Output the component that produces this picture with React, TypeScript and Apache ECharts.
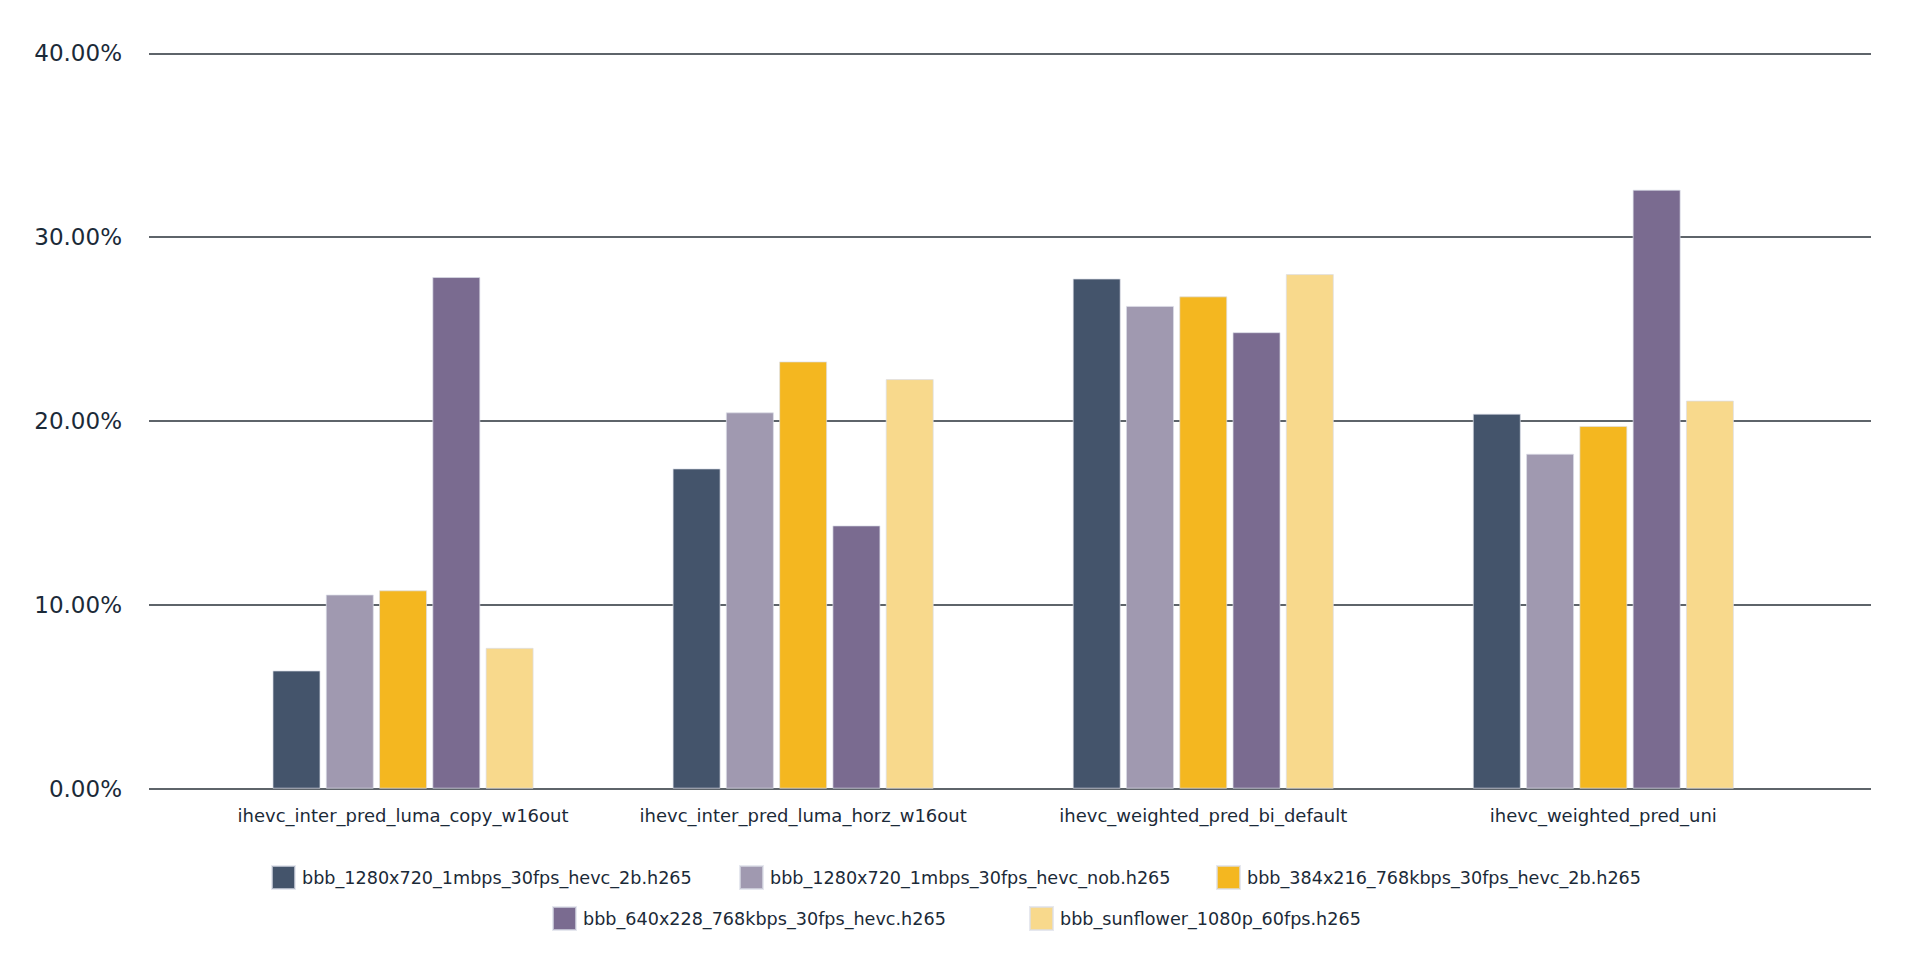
import React, { useEffect, useRef } from 'react';
import * as echarts from 'echarts';

const categories = [
  'ihevc_inter_pred_luma_copy_w16out',
  'ihevc_inter_pred_luma_horz_w16out',
  'ihevc_weighted_pred_bi_default',
  'ihevc_weighted_pred_uni',
];

const seriesNames = [
  'bbb_1280x720_1mbps_30fps_hevc_2b.h265',
  'bbb_1280x720_1mbps_30fps_hevc_nob.h265',
  'bbb_384x216_768kbps_30fps_hevc_2b.h265',
  'bbb_640x228_768kbps_30fps_hevc.h265',
  'bbb_sunflower_1080p_60fps.h265',
];

// percent values per file, one entry per category
const hevc2b720 = [6.43, 17.42, 27.75, 20.4];
const hevcNob720 = [10.56, 20.47, 26.26, 18.22];
const hevc2b384 = [10.79, 23.24, 26.78, 19.73];
const hevc640 = [27.83, 14.32, 24.83, 32.58];
const sunflower = [7.66, 22.28, 27.99, 21.11];

const seriesValues = [hevc2b720, hevcNob720, hevc2b384, hevc640, sunflower];

const colors = ['#44546b', '#a099b0', '#f4b720', '#7a6b90', '#f8d98c'];

const textColor = '#1b2a38';
const font = 'DejaVu Sans';

// legend slot positions (two rows, like the original layout)
const legendSlots = [
  { left: 271, top: 865 },
  { left: 739, top: 865 },
  { left: 1216, top: 865 },
  { left: 552, top: 906 },
  { left: 1029, top: 906 },
];

const App: React.FC = () => {
  const chartRef = useRef<HTMLDivElement | null>(null);

  useEffect(() => {
    if (!chartRef.current) return;
    const chart = echarts.init(chartRef.current, null, { renderer: 'svg' });

    const option: echarts.EChartsOption = {
      animation: false,
      backgroundColor: '#ffffff',
      textStyle: { fontFamily: font, color: textColor },
      grid: [
        // gridlines + y labels, wider than the bars
        { left: 149, top: 53.3, width: 1722, height: 735.4 },
        // bars
        { left: 203, top: 53.3, width: 1600.4, height: 735.4 },
      ],
      legend: seriesNames.map((name, i) => ({
        data: [name],
        left: legendSlots[i].left,
        top: legendSlots[i].top,
        padding: 0,
        icon: 'rect',
        itemWidth: 23,
        itemHeight: 23,
        selectedMode: false,
        textStyle: {
          fontFamily: font,
          fontSize: 17.6,
          color: textColor,
          padding: [0, 0, 0, 2],
        },
      })),
      xAxis: [
        { type: 'value', gridIndex: 0, show: false, min: 0, max: 1 },
        {
          type: 'category',
          gridIndex: 1,
          data: categories,
          axisLine: { show: false },
          axisTick: { show: false },
          axisLabel: {
            fontFamily: font,
            fontSize: 18,
            color: textColor,
            margin: 18,
            interval: 0,
          },
        },
      ],
      yAxis: [
        {
          type: 'value',
          gridIndex: 0,
          min: 0,
          max: 40,
          interval: 10,
          axisLine: { show: false },
          axisTick: { show: false },
          axisLabel: {
            fontFamily: font,
            fontSize: 23,
            color: textColor,
            margin: 27,
            formatter: (v: number) => `${v.toFixed(2)}%`,
          },
          splitLine: { show: true, lineStyle: { color: '#283039', width: 1.5 } },
        },
        { type: 'value', gridIndex: 1, min: 0, max: 40, show: false, splitLine: { show: false } },
      ],
      series: seriesNames.map((name, i) => ({
        name,
        type: 'bar',
        xAxisIndex: 1,
        yAxisIndex: 1,
        data: seriesValues[i],
        barWidth: 48,
        barGap: '11%',
        itemStyle: { color: colors[i], borderColor: 'rgba(220,222,232,0.7)', borderWidth: 1 },
      })),
    };

    chart.setOption(option);
    return () => {
      chart.dispose();
    };
  }, []);

  return (
    <div
      ref={chartRef}
      style={{ position: 'absolute', left: 0, top: 0, width: '1920px', height: '967px' }}
    />
  );
};

export default App;
